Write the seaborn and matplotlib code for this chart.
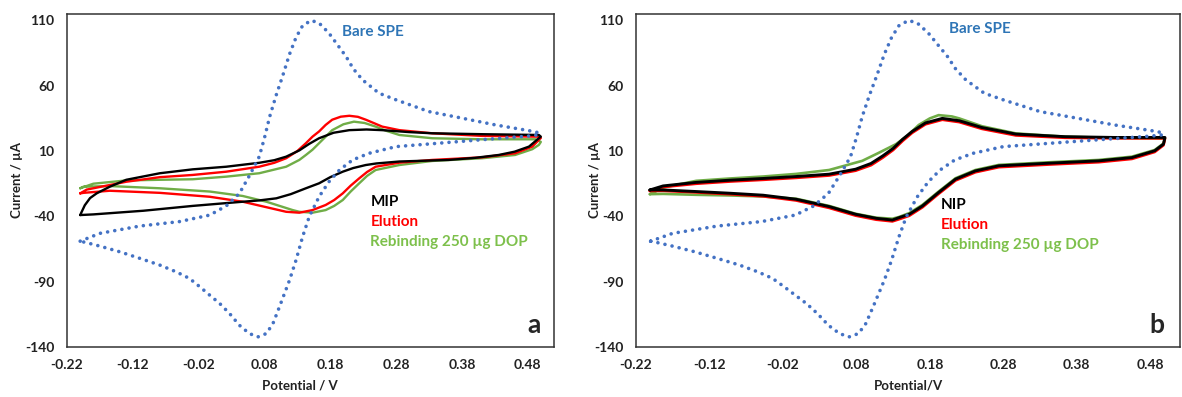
import matplotlib
matplotlib.use("Agg")
import matplotlib.pyplot as plt
import seaborn as sns

# Bare SPE (same electrode in both panels), closed CV loop
bare_v = [-0.200, -0.170, -0.109, -0.049, -0.003, 0.022, 0.042, 0.057, 0.072, 0.080,
          0.088, 0.098, 0.108, 0.118, 0.128, 0.138, 0.151, 0.163, 0.178, 0.190,
          0.204, 0.215, 0.229, 0.254, 0.280, 0.330, 0.380, 0.431, 0.482, 0.497,
          0.497, 0.482, 0.406, 0.330, 0.280, 0.239, 0.214, 0.194, 0.178, 0.163,
          0.148, 0.138, 0.128, 0.118, 0.103, 0.093, 0.083, 0.070, 0.057, 0.042,
          0.027, 0.012, -0.003, -0.018, -0.034, -0.054, -0.079, -0.109, -0.140, -0.170,
          -0.190, -0.200]
bare_i = [-59, -53, -47.4, -44, -39, -32, -22.4, -9, 5.6, 20,
          36.4, 53, 68, 84, 97, 106, 110, 108, 100.3, 92,
          82.4, 73, 64.5, 54.3, 49.2, 40.2, 35.2, 30, 25.6, 24,
          22.4, 21.5, 18.5, 15.4, 13.4, 8.3, 3.2, -4.5, -13.5, -25,
          -40.3, -55.6, -73.5, -89, -109, -122, -129.7, -132.3, -129.7, -123.4,
          -114.4, -106.7, -100.4, -94, -87.5, -82.5, -77.3, -72.2, -67.1, -62.8,
          -60.2, -59]

# panel a: MIP
mip_v = [-0.200, -0.193, -0.185, -0.175, -0.155, -0.130, -0.079, -0.029, 0.022, 0.072,
         0.095, 0.113, 0.133, 0.148, 0.163, 0.185, 0.209, 0.235, 0.259, 0.300,
         0.335, 0.411, 0.497, 0.500, 0.497, 0.482, 0.460, 0.436, 0.400, 0.360,
         0.285, 0.250, 0.234, 0.215, 0.199, 0.180, 0.163, 0.143, 0.120, 0.098,
         0.072, 0.047, -0.029, -0.104, -0.180, -0.200]
mip_i = [-39, -31.5, -26, -22.4, -17.3, -12, -7, -4, -2, 1,
         3, 5.7, 10.5, 15.5, 19.8, 24, 26, 26.5, 26, 24.5,
         23.6, 22.9, 22.3, 21, 19.8, 13.4, 9.5, 7, 4.8, 3.2,
         2, 0.5, -0.7, -3, -5.8, -10, -14.7, -18.5, -23, -26.2,
         -27.8, -28.8, -32, -35.7, -38.5, -39]

# panel a: Elution
elu_a_v = [-0.200, -0.190, -0.180, -0.130, -0.079, -0.029, 0.022, 0.072, 0.095, 0.113,
           0.130, 0.143, 0.153, 0.163, 0.173, 0.183, 0.196, 0.209, 0.222, 0.234,
           0.259, 0.285, 0.335, 0.411, 0.497, 0.500, 0.497, 0.487, 0.461, 0.411,
           0.335, 0.285, 0.249, 0.236, 0.224, 0.211, 0.199, 0.186, 0.173, 0.153,
           0.133, 0.113, 0.083, 0.047, -0.003, -0.079, -0.155, -0.195, -0.200]
elu_a_i = [-22.4, -19.5, -18.5, -13.5, -10, -8.3, -5.8, -2, 1, 4.5,
           10, 16, 21, 25, 30, 34, 36.3, 37, 36.2, 34,
           28.7, 26, 23.6, 21.6, 21, 20, 18.5, 13.4, 8.3, 5.2,
           3.2, 1.1, -2, -6, -10.9, -16.5, -22.4, -27.5, -31.3, -35.2,
           -37.2, -36.5, -33, -28.8, -25, -22, -20.4, -22, -22.4]

# panel a: Rebinding 250 ug DOP
reb_a_v = [-0.200, -0.180, -0.130, -0.079, -0.029, 0.022, 0.072, 0.113, 0.133, 0.143,
           0.153, 0.163, 0.173, 0.183, 0.200, 0.216, 0.232, 0.249, 0.265, 0.285,
           0.335, 0.411, 0.492, 0.500, 0.497, 0.487, 0.461, 0.411, 0.335, 0.285,
           0.249, 0.236, 0.224, 0.211, 0.199, 0.186, 0.173, 0.153, 0.133, 0.123,
           0.083, 0.047, -0.003, -0.079, -0.155, -0.195, -0.200]
reb_a_i = [-18.5, -15, -12.5, -12, -11.6, -9.6, -7, -2, 3.2, 7,
           11, 16, 21, 26, 30.5, 32.5, 31.5, 28.7, 25.5, 22.3,
           19.8, 19, 19, 17, 14.7, 11.4, 7, 4.5, 2.4, -0.7,
           -4.5, -9, -14.7, -21, -27.5, -32, -35.2, -37.2, -36.5, -35.2,
           -28.8, -24.4, -21, -18.5, -16.8, -17.3, -18.5]

# panel b: NIP
nip_v = [-0.201, -0.183, -0.138, -0.092, -0.047, -0.002, 0.043, 0.079, 0.100, 0.116,
         0.130, 0.143, 0.156, 0.174, 0.197, 0.220, 0.251, 0.297, 0.364, 0.432,
         0.500, 0.498, 0.486, 0.455, 0.410, 0.342, 0.274, 0.242, 0.215, 0.192,
         0.170, 0.152, 0.138, 0.129, 0.107, 0.079, 0.043, -0.002, -0.047, -0.092,
         -0.138, -0.183, -0.201]
nip_i = [-19.8, -16.7, -14, -12.3, -11, -9.5, -7.7, -3.9, 0.5, 6.3,
         12, 19, 25, 31.5, 35, 33.2, 28, 23, 21, 20.4,
         20.4, 15.3, 10.2, 5, 2.5, 0.7, -1.3, -5.2, -11.5, -21.7,
         -32, -38.4, -41, -42.8, -41.5, -38.4, -32.5, -26.9, -23.8, -22.3,
         -21, -19.8, -19.8]

# panel b: Elution
elu_b_v = [-0.201, -0.183, -0.138, -0.092, -0.047, -0.002, 0.043, 0.079, 0.100, 0.116,
           0.130, 0.143, 0.156, 0.174, 0.197, 0.220, 0.251, 0.297, 0.364, 0.432,
           0.500, 0.498, 0.486, 0.455, 0.410, 0.342, 0.274, 0.242, 0.215, 0.192,
           0.170, 0.152, 0.138, 0.129, 0.107, 0.079, 0.043, -0.002, -0.047, -0.092,
           -0.138, -0.183, -0.201]
elu_b_i = [-20.5, -17.5, -15, -13.3, -12, -10.5, -8.7, -5, -0.8, 5,
           10.8, 17.8, 24, 30.5, 34, 32.2, 27, 22, 20.2, 19.8,
           19.8, 14.5, 9.3, 4, 1.5, -0.3, -2.3, -6.2, -12.5, -22.7,
           -33, -39.5, -42.2, -43.8, -42.5, -39.4, -33.5, -27.8, -24.6, -23,
           -21.6, -20.4, -20.5]

# panel b: Rebinding 250 ug DOP
reb_b_v = [-0.201, -0.190, -0.183, -0.138, -0.092, -0.047, -0.002, 0.043, 0.088, 0.110,
           0.134, 0.150, 0.165, 0.180, 0.192, 0.210, 0.220, 0.251, 0.297, 0.364,
           0.432, 0.500, 0.498, 0.486, 0.455, 0.410, 0.342, 0.274, 0.242, 0.215,
           0.192, 0.170, 0.152, 0.138, 0.129, 0.107, 0.079, 0.043, -0.002, -0.047,
           -0.092, -0.138, -0.183, -0.201]
reb_b_i = [-23, -20, -18, -12.8, -11, -9.5, -7.5, -4.5, 2.5, 8.5,
           15.3, 22, 30, 35, 37.5, 36.5, 35, 29, 23.5, 21,
           20, 19.5, 15.8, 10.8, 5.7, 3.2, 1.4, -0.6, -4.5, -10.8,
           -21, -31.2, -37.5, -40.5, -41.8, -41, -38, -32, -26.5, -24.8,
           -24, -23.5, -22.8, -23]

x_ticks = [-0.22, -0.12, -0.02, 0.08, 0.18, 0.28, 0.38, 0.48]
y_ticks = [110, 60, 10, -40, -90, -140]
x_tick_labels = ["-0.22", "-0.12", "-0.02", "0.08", "0.18", "0.28", "0.38", "0.48"]
y_tick_labels = ["110", "60", "10", "-40", "-90", "-140"]

BLUE = "#4472C4"
RED = "#FF0000"
GREEN = "#70AD47"

sns.set_style("white")
plt.rcParams["font.family"] = ["Lato", "DejaVu Sans"]
plt.rcParams["font.weight"] = "bold"

fig = plt.figure(figsize=(11.82, 3.97), dpi=100)
ax_a = fig.add_axes([0.0567, 0.126, 0.412, 0.839])
ax_b = fig.add_axes([0.538, 0.126, 0.460, 0.839])


def draw_panel(ax, curves, sample_name, letter, xlabel, ylabel_x, xlabel_x,
               bare_pos, legend_pos):
    for v, i, col, lw in curves:
        sns.lineplot(x=v, y=i, sort=False, estimator=None, color=col,
                     linewidth=lw, ax=ax)
    sns.lineplot(x=bare_v, y=bare_i, sort=False, estimator=None, color=BLUE,
                 linewidth=2.6, linestyle=(0, (0.01, 2.0)),
                 dash_capstyle="round", ax=ax)

    ax.set_xlim(-0.22, 0.52)
    ax.set_ylim(-140, 115)
    ax.set_xticks(x_ticks)
    ax.set_xticklabels(x_tick_labels)
    ax.set_yticks(y_ticks)
    ax.set_yticklabels(y_tick_labels)
    ax.tick_params(axis="x", direction="in", length=4, width=1.1, pad=9,
                   labelsize=10, colors="#222222")
    ax.tick_params(axis="y", direction="out", length=4, width=1.1, pad=5,
                   labelsize=10, colors="#222222")
    for lbl in ax.get_xticklabels() + ax.get_yticklabels():
        lbl.set_fontweight("bold")
    for sp in ax.spines.values():
        sp.set_visible(True)
        sp.set_color("#333333")
        sp.set_linewidth(1.1)

    ax.set_xlabel(xlabel, fontsize=9.5, fontweight="bold", color="#222222")
    ax.set_ylabel("Current / µA", fontsize=9.5, fontweight="bold", color="#222222")
    ax.xaxis.set_label_coords(xlabel_x, -0.097)
    ax.yaxis.set_label_coords(ylabel_x, 0.5)

    ax.text(bare_pos[0], bare_pos[1], "Bare SPE", color="#2E75B6", fontsize=11,
            fontweight="bold", va="center", ha="left")
    lx, ly = legend_pos
    ax.text(lx, ly, sample_name, color="black", fontsize=11, fontweight="bold",
            va="center", ha="left")
    ax.text(lx, ly - 15.3, "Elution", color=RED, fontsize=11, fontweight="bold",
            va="center", ha="left")
    ax.text(lx, ly - 30.6, "Rebinding 250 µg DOP", color="#7DC04B", fontsize=11,
            fontweight="bold", va="center", ha="left")
    ax.text(0.972, 0.066, letter, transform=ax.transAxes, fontsize=19,
            fontweight="bold", ha="right", va="center")


draw_panel(ax_a,
           [(reb_a_v, reb_a_i, GREEN, 1.7), (elu_a_v, elu_a_i, RED, 1.7),
            (mip_v, mip_i, "black", 1.7)],
           "MIP", "a", "Potential / V", -0.090, 0.478,
           (0.198, 101.3), (0.241, -28.8))
draw_panel(ax_b,
           [(reb_b_v, reb_b_i, GREEN, 1.9), (elu_b_v, elu_b_i, RED, 2.0),
            (nip_v, nip_i, "black", 2.1)],
           "NIP", "b", "Potential/V", -0.064, 0.501,
           (0.206, 103.5), (0.195, -31.5))

fig.savefig("out.png", dpi=100)
